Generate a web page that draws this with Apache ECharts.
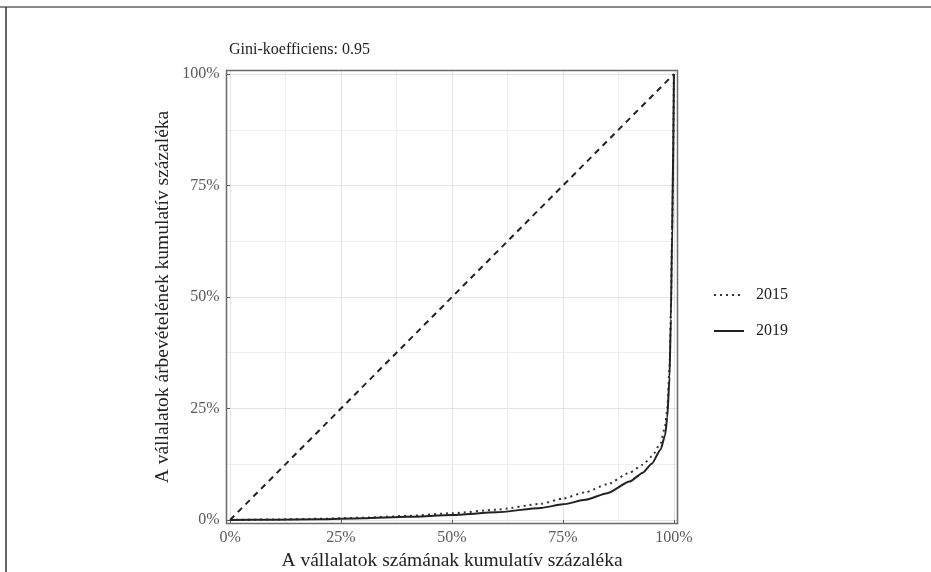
<!DOCTYPE html>
<html>
<head>
<meta charset="utf-8">
<script src="https://cdn.jsdelivr.net/npm/echarts@6/dist/echarts.min.js"></script>
<style>
  html, body { margin: 0; padding: 0; background: #fff; }
  #main { width: 931px; height: 572px; }
</style>
</head>
<body>
<div id="main"></div>
<script>
  var shareX = [0, 0.1, 0.2, 0.3, 0.4, 0.5, 0.6, 0.7, 0.75, 0.8, 0.85, 0.9, 0.93, 0.95, 0.97, 0.98, 0.985, 0.99, 0.993, 0.996, 1];
  var y2015 = [0, 0.001, 0.0025, 0.005, 0.009, 0.015, 0.023, 0.036, 0.048, 0.062, 0.08, 0.106, 0.124, 0.142, 0.172, 0.21, 0.25, 0.34, 0.46, 0.66, 1];
  var y2019 = [0, 0.0005, 0.0015, 0.004, 0.007, 0.011, 0.017, 0.027, 0.035, 0.045, 0.06, 0.086, 0.106, 0.126, 0.158, 0.19, 0.23, 0.32, 0.45, 0.65, 1];
  var majorTicks = [0, 0.25, 0.5, 0.75, 1];
  var minorTicks = [0.125, 0.375, 0.625, 0.875];
  var diag = [[0, 0], [1, 1]];

  var serif = 'Liberation Serif';
  var pct = function (v) { return Math.round(v * 100) + '%'; };

  function pairs(ys) {
    return shareX.map(function (x, i) { return [x, ys[i]]; });
  }

  var myChart = echarts.init(document.getElementById('main'));

  var mainAxis = {
    type: 'value',
    min: -0.008,
    max: 1.008,
    axisLine: { show: false },
    axisTick: { show: true, customValues: majorTicks, length: 4, lineStyle: { color: '#555', width: 1 } },
    axisLabel: { customValues: majorTicks, formatter: pct, color: '#5a5a5a', fontFamily: serif, fontSize: 16 },
    splitLine: { show: true, lineStyle: { color: '#e3e3e3', width: 1 } }
  };
  var minorAxis = {
    type: 'value',
    min: -0.008,
    max: 1.008,
    axisLine: { show: false },
    axisTick: { show: false, customValues: minorTicks },
    axisLabel: { show: false },
    splitLine: { show: true, lineStyle: { color: '#eeeeee', width: 1 } }
  };

  var option = {
    backgroundColor: '#fff',
    animation: false,
    title: {
      text: 'Gini-koefficiens: 0.95',
      left: 224,
      top: 37,
      textStyle: { fontFamily: serif, fontSize: 16, fontWeight: 'normal', color: '#222' }
    },
    legend: {
      orient: 'vertical',
      left: 708,
      top: 282,
      itemWidth: 30,
      itemHeight: 14,
      itemGap: 20,
      data: ['2015', '2019'],
      itemStyle: { opacity: 0 },
      textStyle: { fontFamily: serif, fontSize: 16, color: '#222', padding: [0, 0, 0, 7] }
    },
    grid: {
      left: 226.5,
      right: 253.5,
      top: 70.5,
      bottom: 48.5,
      outerBoundsMode: 'none',
      containLabel: false,
      show: true,
      borderColor: '#6a6a6a',
      borderWidth: 1.5,
      z: 3
    },
    xAxis: [
      Object.assign({}, mainAxis, {
        name: 'A vállalatok számának kumulatív százaléka',
        nameLocation: 'middle',
        nameGap: 24,
        nameTextStyle: { fontFamily: serif, fontSize: 19.5, color: '#222' },
        axisLabel: Object.assign({}, mainAxis.axisLabel, { margin: 6 })
      }),
      minorAxis
    ],
    yAxis: [
      Object.assign({}, mainAxis, {
        name: 'A vállalatok árbevételének kumulatív százaléka',
        nameLocation: 'middle',
        nameGap: 54,
        nameTextStyle: { fontFamily: serif, fontSize: 19.5, color: '#222' },
        axisLabel: Object.assign({}, mainAxis.axisLabel, { margin: 7 })
      }),
      minorAxis
    ],
    series: [
      {
        name: 'egyenlő',
        type: 'line',
        data: diag,
        symbol: 'none',
        silent: true,
        lineStyle: { color: '#222', width: 2, type: [6, 5] }
      },
      {
        name: '2015',
        type: 'line',
        data: pairs(y2015),
        symbol: 'none',
        smooth: 0.2,
        smoothMonotone: 'x',
        itemStyle: { color: '#333' },
        lineStyle: { color: '#333', width: 2, type: [2, 4] }
      },
      {
        name: '2019',
        type: 'line',
        data: pairs(y2019),
        symbol: 'none',
        smooth: 0.2,
        smoothMonotone: 'x',
        itemStyle: { color: '#222' },
        lineStyle: { color: '#222', width: 2 }
      }
    ],
    graphic: [
      { type: 'line', shape: { x1: 0, y1: 7, x2: 931, y2: 7 }, style: { stroke: '#8a8a8a', lineWidth: 2 } },
      { type: 'line', shape: { x1: 6, y1: 7, x2: 6, y2: 572 }, style: { stroke: '#333', lineWidth: 1.5 } }
    ]
  };
  myChart.setOption(option);
</script>
</body>
</html>
